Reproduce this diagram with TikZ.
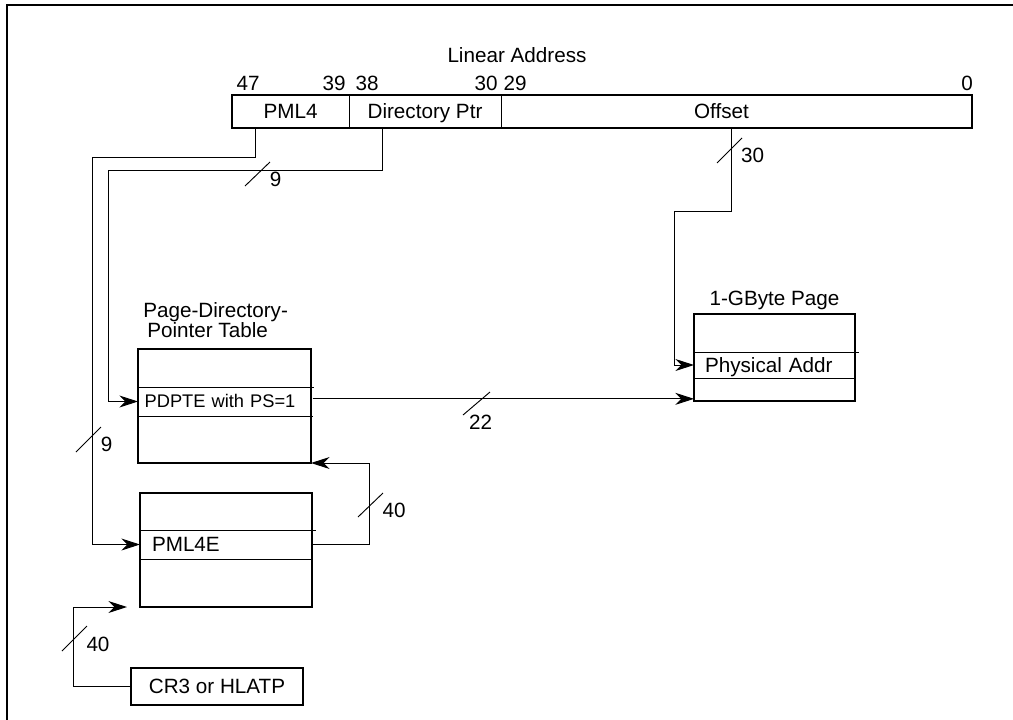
\documentclass[tikz,border=0pt]{standalone}
\usepackage{fontspec}
\setmainfont{Liberation Sans}
\usetikzlibrary{arrows.meta,calc,positioning}

\begin{document}
\begin{tikzpicture}[x=0.75pt,y=-0.75pt,>={Stealth[length=14pt,width=9pt,inset=4.5pt]},
                font=\fontsize{15.5}{15}\selectfont,
                field/.style={draw,line width=0.7pt,minimum height=24.75pt,inner sep=0pt,outer sep=0pt,
                              text height=11pt,text depth=0pt},
                tbl/.style={draw,line width=1.5pt,inner sep=0pt,outer sep=0pt},
                entry/.style={anchor=west,minimum height=21.75pt,inner ysep=0pt,outer sep=0pt,
                              text height=10.5pt,text depth=0pt},
                row/.style={line width=0.7pt},
                link/.style={line width=0.7pt},
                tick/.style={line width=0.7pt},
                bits/.style={inner sep=0pt}]
  \useasboundingbox (0,0) rectangle (1013,719);
  \draw[line width=1.3pt] (7,730) -- (7,5) -- (1030,5);

  % linear address
  \node[bits] (title) at (517,55) {Linear Address};
  \node[field,minimum width=87.75pt] (pml4) at (290.5,111.5) {PML4};
  \node[field,minimum width=114pt,anchor=west] (dirptr) at (pml4.east) {Directory Ptr};
  \node[field,minimum width=353.25pt,anchor=west,label={[xshift=-11.25pt,text height=11pt,text depth=0pt,inner sep=0pt]center:Offset}] (offset) at (dirptr.east) {};
  \draw[line width=1.5pt] (pml4.north west) rectangle (offset.south east);
  \node[bits] (b47) at (248,83) {47};
  \node[bits] (b39) at (334,83) {39};
  \node[bits] (b38) at (367,83) {38};
  \node[bits] (b30) at (486,83) {30};
  \node[bits] (b29) at (515,83) {29};
  \node[bits] (b0) at (967,83) {0};

  % page-directory-pointer table
  \node[tbl,minimum width=129.75pt,minimum height=85.5pt] (pdpt) at (224.5,406) {};
  \node[entry,text width=121pt,inner xsep=5pt,text height=9.5pt,font=\fontsize{13.7}{15}\selectfont] (pdpte) at (138,401.5) {PDPTE with PS=1};
  \draw[row] (pdpte.north west) -- ++(176,0);
  \draw[row] (pdpte.south west) -- (pdpte.south east);
  \node[bits,anchor=south west,align=left] (pdpttitle) at (143,338) {Page-Directory-\\\hspace{3pt}Pointer Table};

  % pml4 table
  \node[tbl,minimum width=129pt,minimum height=85.5pt] (pml4tbl) at (226,550) {};
  \node[entry,text width=111pt,inner xsep=9pt] (pml4e) at (140,544.5) {PML4E};
  \draw[row] (pml4e.north west) -- ++(176,0);
  \draw[row] (pml4e.south west) -- (pml4e.south east);

  % 1-gbyte page
  \node[tbl,minimum width=120.75pt,minimum height=65.25pt] (page) at (774.5,357.5) {};
  \node[entry,minimum height=19.5pt,text width=104.25pt,inner xsep=8.25pt] (phys) at (694,365) {Physical Addr};
  \draw[row] (phys.north west) -- ++(165,0);
  \draw[row] (phys.south west) -- (phys.south east);
  \node[bits,above=3pt of page] (pagetitle) {1-GByte Page};

  \node[tbl,minimum width=129pt,minimum height=27.75pt,text height=11pt,text depth=0pt] (cr3) at (217,686.5) {CR3 or HLATP};

  % connectors
  \coordinate (pmlbend) at (92,157);
  \coordinate (dirbend) at (108,170);
  \coordinate (offbend) at (674,211);
  \coordinate (retbend) at (369,463);
  \coordinate (crbend) at (73,607);
  \coordinate (crtip) at ($(pml4tbl.south west)+(-13,0)$);

  \draw[link,->] ($(pml4.south west)+(23,0)$) |- (pmlbend) |- (pml4e.west);
  \draw[link,->] ($(dirptr.south west)+(33,0)$) |- (dirbend) |- (pdpte.west);
  \draw[link,->] ($(offset.south west)+(230,0)$) |- (offbend) |- (phys.west);
  \draw[link,->] ([yshift=2pt]pdpte.east) -- ([yshift=2pt]pdpte.east -| page.west);
  \draw[link,->] (pml4e.east) -| (retbend) -- (pdpt.south east);
  \draw[link,->] (cr3.west) -| (crbend) -- (crtip);

  % bus widths
  \draw[tick] (245,186) -- (270,162);
  \node[bits] (w9a) at (275.5,179) {9};
  \draw[tick] (76,452) -- (101,427);
  \node[bits] (w9b) at (106.5,444) {9};
  \draw[tick] (717,163) -- (742,138);
  \node[bits] (w30) at (752.5,155.5) {30};
  \draw[tick] (463,415) -- (490,392);
  \node[bits] (w22) at (480.5,422.5) {22};
  \draw[tick] (358,517) -- (383,493);
  \node[bits] (w40a) at (394,510) {40};
  \draw[tick] (62,651) -- (87,626);
  \node[bits] (w40b) at (98,644.5) {40};
\end{tikzpicture}
\end{document}
